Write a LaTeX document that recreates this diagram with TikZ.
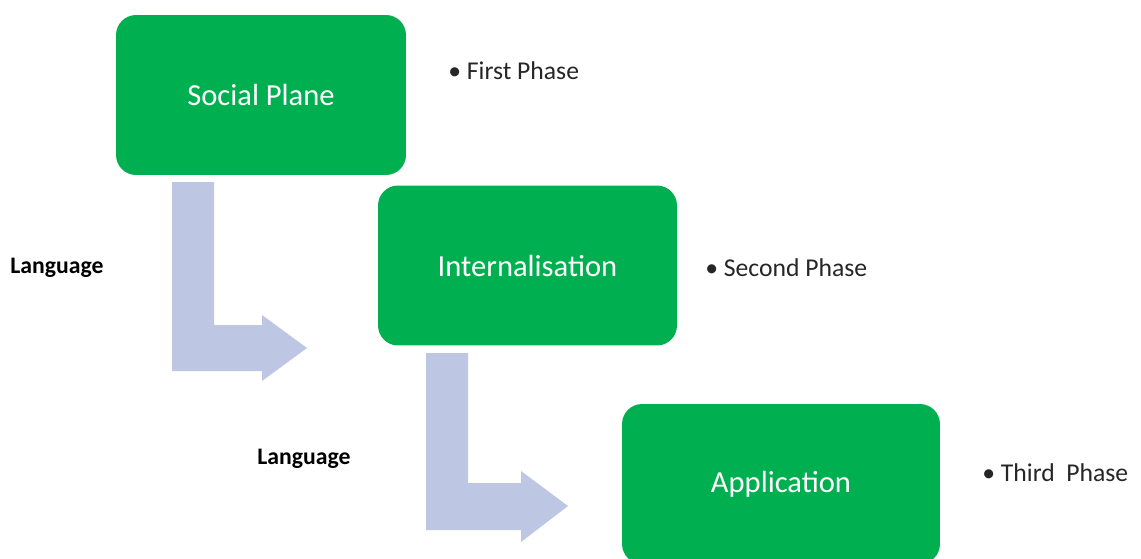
\documentclass[tikz,border=0pt]{standalone}
\usepackage{fontspec}
\setmainfont{Carlito}
\usetikzlibrary{positioning}
\definecolor{phasegreen}{HTML}{00B050}
\definecolor{arrowblue}{HTML}{BDC7E3}
\definecolor{labelgray}{HTML}{262626}

\begin{document}
\begin{tikzpicture}[
            x=0.02cm, y=-0.02cm,
            plane/.style={rectangle, rounded corners=0.4cm, fill=phasegreen, text=white, minimum height=3.2cm, font=\fontsize{17.4}{20}\selectfont},
            phase/.style={anchor=west, text=labelgray, inner sep=0pt, font=\fontsize{14.6}{17}\selectfont},
            lang/.style={anchor=west, inner sep=0pt, font=\bfseries\fontsize{13.5}{16}\selectfont},
            bentarrow/.style={fill=arrowblue}
        ]
        \useasboundingbox (0,0) rectangle (1141,558);
        \node[plane, minimum width=5.8cm] (social) at (261,95) {Social Plane};
        \node[plane, minimum width=5.98cm] (intern) at (527.5,265.5) {Internalisation};
        \node[plane, minimum width=6.36cm] (appl) at (781,484) {Application};
        \node[phase] (first) at (448,71) {\textbullet\ First Phase};
        \node[phase] (second) at (705,268) {\textbullet\ Second Phase};
        \node[phase] (third) at (982,473) {\textbullet\ Third~~Phase};
        \node[lang] (lang1) at (10,268) {Language};
        \node[lang] (lang2) at (257,459) {Language};
        % bent arrows between the planes
        \fill[bentarrow] (172,182) -- (214,182) -- (214,325) -- (262,325) -- (262,315) -- (307,348)
            -- (262,381) -- (262,371) -- (172,371) -- cycle;
        \fill[bentarrow] (426,353) -- (468,353) -- (468,483) -- (521,483) -- (521,471) -- (568,506)
            -- (521,542) -- (521,530) -- (426,530) -- cycle;
        \end{tikzpicture}
\end{document}
